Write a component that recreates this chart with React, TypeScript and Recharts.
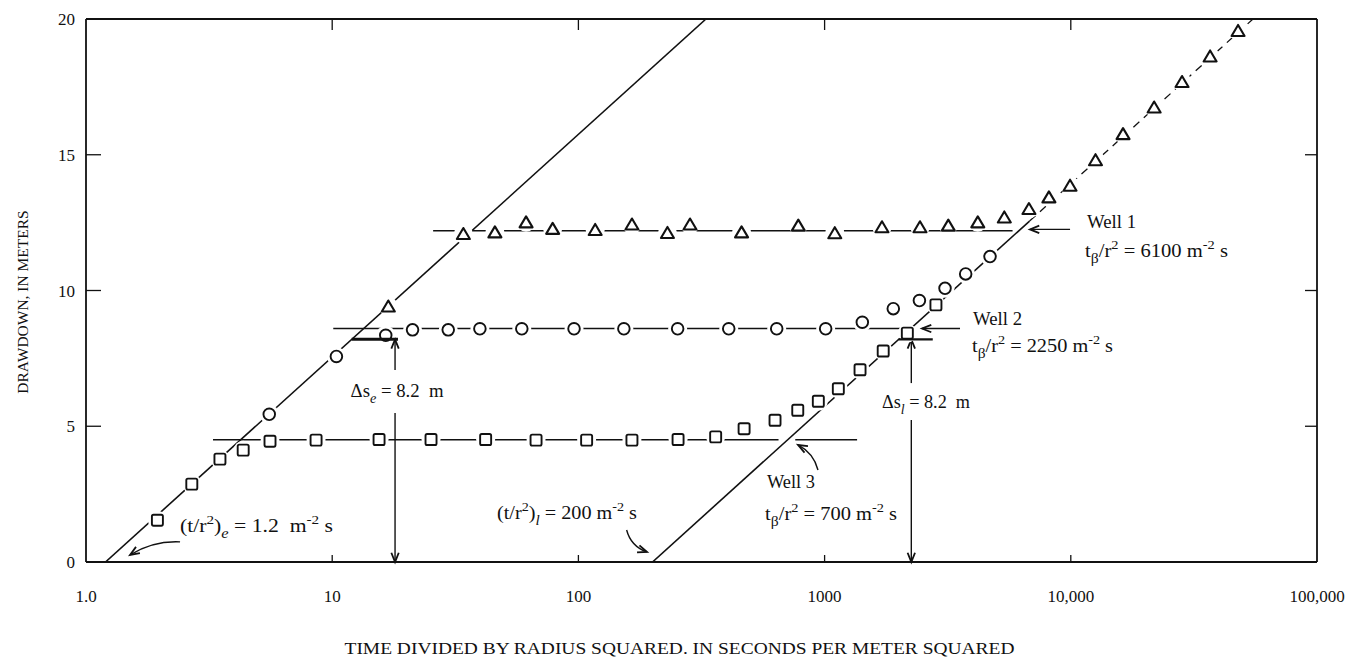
import React from "react";
import { ComposedChart, Scatter, XAxis, YAxis, ReferenceLine, ReferenceDot } from "recharts";

const W = 1358;
const H = 660;
const INK = "#111";
const FONT = "'Liberation Serif', 'Times New Roman', serif";

const xTicks = [1, 10, 100, 1000, 10000, 100000];
const xTickLabels = ["1.0", "10", "100", "1000", "10,000", "100,000"];
const innerXTicks = [10, 100, 1000, 10000];
const yTicks = [0, 5, 10, 15, 20];
const innerYTicks = [5, 10, 15];

// Well 1 (triangles)
const well1T = [16.9, 34.1, 45.8, 61.3, 78.6, 117, 165, 230, 284, 460, 782, 1100, 1710, 2440, 3180, 4190, 5370, 6760, 8150, 9930, 12600, 16300, 21800, 28300, 36800, 47800];
const well1S = [9.41, 12.08, 12.14, 12.51, 12.27, 12.23, 12.43, 12.12, 12.43, 12.14, 12.39, 12.11, 12.33, 12.33, 12.39, 12.51, 12.69, 13.0, 13.43, 13.86, 14.8, 15.76, 16.74, 17.68, 18.62, 19.56];

// Well 2 (circles)
const well2T = [5.55, 10.4, 16.5, 21.2, 29.6, 39.8, 58.9, 96, 153, 253, 408, 639, 1010, 1423, 1901, 2427, 3084, 3741, 4698];
const well2S = [5.44, 7.57, 8.35, 8.55, 8.55, 8.59, 8.59, 8.59, 8.59, 8.59, 8.59, 8.59, 8.59, 8.83, 9.33, 9.63, 10.08, 10.61, 11.25];

// Well 3 (squares)
const well3T = [1.95, 2.69, 3.5, 4.35, 5.59, 8.6, 15.5, 25.2, 42.0, 67.3, 108, 165, 254, 361, 471, 629, 778, 943, 1137, 1393, 1730, 2168, 2833];
const well3S = [1.54, 2.87, 3.79, 4.12, 4.45, 4.49, 4.51, 4.51, 4.51, 4.49, 4.49, 4.49, 4.51, 4.61, 4.91, 5.22, 5.59, 5.92, 6.38, 7.08, 7.77, 8.43, 9.47];

// fitted straight lines: s = 8.2 * log10(t / t0)
const earlyT0 = 1.2;
const lateT0 = 200;
const perCycle = 8.2;
const sTop = 20;
const lateSolidEnd = 6800;

// plateau line pieces (drawdown, from, to)
const plateauS = [12.2, 8.6, 4.5, 4.5];
const plateauFrom = [25.7, 10.1, 3.28, 760];
const plateauTo = [5800, 2250, 650, 1355];

// delta-s bars at 8.2 m
const barS = 8.2;
const barFrom = [12, 2000];
const barTo = [18.5, 2750];
const barWidth = [3, 2.2];

const tAt = (t0: number, s: number) => t0 * Math.pow(10, s / perCycle);
const sAt = (t0: number, t: number) => perCycle * Math.log10(t / t0);
const pts = (t: number[], s: number[]) => t.map((x, i) => ({ x, y: s[i] }));

const earlyLine = [{ x: earlyT0, y: 0 }, { x: tAt(earlyT0, sTop), y: sTop }];
const lateSolid = [{ x: lateT0, y: 0 }, { x: lateSolidEnd, y: sAt(lateT0, lateSolidEnd) }];
const lateDashed = [{ x: lateSolidEnd, y: sAt(lateT0, lateSolidEnd) }, { x: tAt(lateT0, sTop), y: sTop }];

const HALO = 9.5;
const noDot = () => <g />;

const triShape = (p: any) => {
  const { cx, cy } = p;
  if (cx == null || cy == null) return <g />;
  return (
    <g>
      <circle cx={cx} cy={cy} r={HALO} fill="#fff" />
      <path d={`M${cx} ${cy - 6} L${cx + 6.5} ${cy + 5} L${cx - 6.5} ${cy + 5} Z`} fill="#fff" stroke={INK} strokeWidth={2.1} strokeLinejoin="round" />
    </g>
  );
};
const circShape = (p: any) => {
  const { cx, cy } = p;
  if (cx == null || cy == null) return <g />;
  return (
    <g>
      <circle cx={cx} cy={cy} r={HALO} fill="#fff" />
      <circle cx={cx} cy={cy} r={5.8} fill="#fff" stroke={INK} strokeWidth={1.9} />
    </g>
  );
};
const sqShape = (p: any) => {
  const { cx, cy } = p;
  if (cx == null || cy == null) return <g />;
  return (
    <g>
      <circle cx={cx} cy={cy} r={HALO} fill="#fff" />
      <rect x={cx - 5.5} y={cy - 5.5} width={11} height={11} rx={1.6} fill="#fff" stroke={INK} strokeWidth={1.9} />
    </g>
  );
};

type Seg = { t: string; k?: "sup" | "sub" | "subi" };

const RichText = ({ x, y, segs, fs = 19, anchor = "start", len }: { x: number; y: number; segs: Seg[]; fs?: number; anchor?: string; len?: number }) => {
  let shift = 0;
  const spans = segs.map((s, i) => {
    let target = 0;
    let size = fs;
    if (s.k === "sup") {
      target = -0.42 * fs;
      size = 0.7 * fs;
    } else if (s.k === "sub" || s.k === "subi") {
      target = 0.3 * fs;
      size = 0.76 * fs;
    }
    const dy = target - shift;
    shift = target;
    return (
      <tspan key={i} dy={dy} fontSize={size} fontStyle={s.k === "subi" ? "italic" : undefined}>
        {s.t}
      </tspan>
    );
  });
  return (
    <text x={x} y={y} textAnchor={anchor as any} fontFamily={FONT} fill={INK} style={{ whiteSpace: "pre" }}
      textLength={len} lengthAdjust="spacingAndGlyphs">
      {spans}
    </text>
  );
};

const notes: { x: number; y: number; segs: Seg[]; anchor?: string; len: number }[] = [
  { x: 2.41, y: 1.1, len: 153, segs: [{ t: "(t/r" }, { t: "2", k: "sup" }, { t: ")" }, { t: "e", k: "subi" }, { t: " = 1.2  m" }, { t: "-2", k: "sup" }, { t: " s" }] },
  { x: 18.35, y: 6.08, len: 93, anchor: "middle", segs: [{ t: "Δs" }, { t: "e", k: "subi" }, { t: " = 8.2  m" }] },
  { x: 46.7, y: 1.58, len: 140, segs: [{ t: "(t/r" }, { t: "2", k: "sup" }, { t: ")" }, { t: "l", k: "subi" }, { t: " = 200 m" }, { t: "-2", k: "sup" }, { t: " s" }] },
  { x: 583, y: 2.73, len: 48, segs: [{ t: "Well 3" }] },
  { x: 573, y: 1.55, len: 132, segs: [{ t: "t" }, { t: "β", k: "sub" }, { t: "/r" }, { t: "2", k: "sup" }, { t: " = 700 m" }, { t: "-2", k: "sup" }, { t: " s" }] },
  { x: 1711, y: 5.67, len: 88, segs: [{ t: "Δs" }, { t: "l", k: "subi" }, { t: " = 8.2  m" }] },
  { x: 4008, y: 8.73, len: 49, segs: [{ t: "Well 2" }] },
  { x: 3970, y: 7.73, len: 141, segs: [{ t: "t" }, { t: "β", k: "sub" }, { t: "/r" }, { t: "2", k: "sup" }, { t: " = 2250 m" }, { t: "-2", k: "sup" }, { t: " s" }] },
  { x: 11640, y: 12.3, len: 49, segs: [{ t: "Well 1" }] },
  { x: 11420, y: 11.23, len: 143, segs: [{ t: "t" }, { t: "β", k: "sub" }, { t: "/r" }, { t: "2", k: "sup" }, { t: " = 6100 m" }, { t: "-2", k: "sup" }, { t: " s" }] },
];

const headPath = (xe: number, ye: number, xf: number, yf: number, len = 10, ang = 0.38) => {
  const a = Math.atan2(ye - yf, xe - xf);
  const p1 = [xe - len * Math.cos(a - ang), ye - len * Math.sin(a - ang)];
  const p2 = [xe - len * Math.cos(a + ang), ye - len * Math.sin(a + ang)];
  return `M${p1[0]} ${p1[1]} L${xe} ${ye} L${p2[0]} ${p2[1]}`;
};

const arrowShape = (bend = 0, width = 1.4) => (p: any) => {
  const { x1, y1, x2, y2 } = p;
  if ([x1, y1, x2, y2].some((v) => v == null || Number.isNaN(v))) return <g />;
  const dx = x2 - x1;
  const dy = y2 - y1;
  const len = Math.hypot(dx, dy) || 1;
  const cx = (x1 + x2) / 2 + (-dy / len) * bend;
  const cy = (y1 + y2) / 2 + (dx / len) * bend;
  const d = bend ? `M${x1} ${y1} Q${cx} ${cy} ${x2} ${y2}` : `M${x1} ${y1} L${x2} ${y2}`;
  return (
    <g>
      <path d={d} fill="none" stroke={INK} strokeWidth={width} />
      <path d={headPath(x2, y2, bend ? cx : x1, bend ? cy : y1)} fill="none" stroke={INK} strokeWidth={width + 0.4} />
    </g>
  );
};

type Arrow = { a: [number, number]; b: [number, number]; bend?: number };
const arrows: Arrow[] = [
  { a: [2.41, 0.74], b: [1.51, 0.26], bend: 8 },
  { a: [157, 1.18], b: [190, 0.37], bend: 8 },
  { a: [940, 3.39], b: [780, 4.31], bend: 7 },
  { a: [9930, 12.25], b: [6826, 12.25] },
  { a: [3548, 8.6], b: [2487, 8.6] },
  { a: [18, 7.07], b: [18, 8.2] },
  { a: [18, 5.49], b: [18, 0] },
  { a: [2250, 6.59], b: [2250, 8.2] },
  { a: [2250, 5.23], b: [2250, 0] },
];

const BottomTick = (p: any) => {
  const { x, y, payload } = p;
  const i = xTicks.indexOf(payload.value);
  return (
    <g>
      {innerXTicks.includes(payload.value) && <line x1={x} x2={x} y1={y} y2={y - 7} stroke={INK} strokeWidth={1.3} />}
      <text x={x} y={y + 40} textAnchor="middle" fontSize={17} fontFamily={FONT} fill={INK}>
        {xTickLabels[i]}
      </text>
    </g>
  );
};
const TopTick = (p: any) => {
  const { x, y } = p;
  return <line x1={x} x2={x} y1={y} y2={y + 11} stroke={INK} strokeWidth={1.3} />;
};
const LeftTick = (p: any) => {
  const { x, y, payload } = p;
  return (
    <g>
      {innerYTicks.includes(payload.value) && <line x1={x} x2={x + 15} y1={y} y2={y} stroke={INK} strokeWidth={1.3} />}
      <text x={x - 11} y={y + 6} textAnchor="end" fontSize={17} fontFamily={FONT} fill={INK}>
        {payload.value}
      </text>
    </g>
  );
};
const RightTick = (p: any) => {
  const { x, y } = p;
  return <line x1={x} x2={x - 12} y1={y} y2={y} stroke={INK} strokeWidth={1.3} />;
};

const XTitle = (props: any) => {
  const vb = props.viewBox || { x: 86, y: 562, width: 1231 };
  return (
    <text x={vb.x + vb.width / 2 - 22} y={vb.y + 92} textAnchor="middle" fontSize={16.5} fontFamily={FONT} fill={INK} textLength={670} lengthAdjust="spacingAndGlyphs">
      TIME DIVIDED BY RADIUS SQUARED. IN SECONDS PER METER SQUARED
    </text>
  );
};
const YTitle = (props: any) => {
  const vb = props.viewBox || { x: 0, y: 19, height: 543 };
  const cx = vb.x + 22;
  const cy = vb.y + 283;
  return (
    <text x={cx} y={cy} transform={`rotate(-90 ${cx} ${cy})`} textAnchor="middle" dominantBaseline="central" fontSize={15.5} fontFamily={FONT} fill={INK}>
      DRAWDOWN, IN METERS
    </text>
  );
};

export default function App() {
  const line = { stroke: INK, strokeWidth: 1.6 };
  return (
    <div style={{ width: W, height: H, background: "#fff" }}>
      <style>{"body{margin:0;background:#fff}"}</style>
      <ComposedChart width={W} height={H} margin={{ top: 0, right: 0, bottom: 0, left: 0 }}>
        <XAxis xAxisId={0} dataKey="x" type="number" scale="log" domain={[1, 100000]} ticks={xTicks} interval={0} allowDataOverflow
          height={98} tickSize={0} tickMargin={0} tickLine={false} tick={BottomTick} axisLine={{ stroke: INK, strokeWidth: 2 }} label={XTitle} />
        <XAxis xAxisId="top" orientation="top" dataKey="x" type="number" scale="log" domain={[1, 100000]} ticks={innerXTicks} interval={0} allowDataOverflow
          height={19} tickSize={0} tickMargin={0} tickLine={false} tick={TopTick} axisLine={{ stroke: INK, strokeWidth: 1.8 }} />
        <YAxis yAxisId={0} dataKey="y" type="number" domain={[0, 20]} ticks={yTicks} interval={0} allowDataOverflow
          width={86} tickSize={0} tickMargin={0} tickLine={false} tick={LeftTick} axisLine={{ stroke: INK, strokeWidth: 1.8 }} label={YTitle} />
        <YAxis yAxisId="right" orientation="right" dataKey="y" type="number" domain={[0, 20]} ticks={innerYTicks} interval={0} allowDataOverflow
          width={41} tickSize={0} tickMargin={0} tickLine={false} tick={RightTick} axisLine={{ stroke: INK, strokeWidth: 1.8 }} />

        <Scatter data={earlyLine} line={line} shape={noDot} isAnimationActive={false} />
        <Scatter data={lateSolid} line={line} shape={noDot} isAnimationActive={false} />
        <Scatter data={lateDashed} line={{ ...line, strokeWidth: 1.3, strokeDasharray: "8 6" }} shape={noDot} isAnimationActive={false} />
        {plateauS.map((s, i) => (
          <Scatter key={`pl${i}`} data={[{ x: plateauFrom[i], y: s }, { x: plateauTo[i], y: s }]} line={{ ...line, strokeWidth: 1.5 }} shape={noDot} isAnimationActive={false} />
        ))}

        <Scatter data={pts(well3T, well3S)} shape={sqShape} isAnimationActive={false} />
        <Scatter data={pts(well2T, well2S)} shape={circShape} isAnimationActive={false} />
        <Scatter data={pts(well1T, well1S)} shape={triShape} isAnimationActive={false} />

        {barFrom.map((f, i) => (
          <Scatter key={`bar${i}`} data={[{ x: f, y: barS }, { x: barTo[i], y: barS }]} line={{ stroke: INK, strokeWidth: barWidth[i] }} shape={noDot} isAnimationActive={false} />
        ))}

        {arrows.map((a, i) => (
          <ReferenceLine key={`ar${i}`} ifOverflow="visible" segment={[{ x: a.a[0], y: a.a[1] }, { x: a.b[0], y: a.b[1] }]}
            shape={arrowShape(a.bend ?? 0, 1.4)} />
        ))}
        {notes.map((n, i) => (
          <ReferenceDot key={`nt${i}`} x={n.x} y={n.y} r={0} ifOverflow="visible"
            shape={(p: any) => <RichText x={p.cx} y={p.cy} segs={n.segs} anchor={n.anchor} len={n.len} />} />
        ))}
      </ComposedChart>
    </div>
  );
}
